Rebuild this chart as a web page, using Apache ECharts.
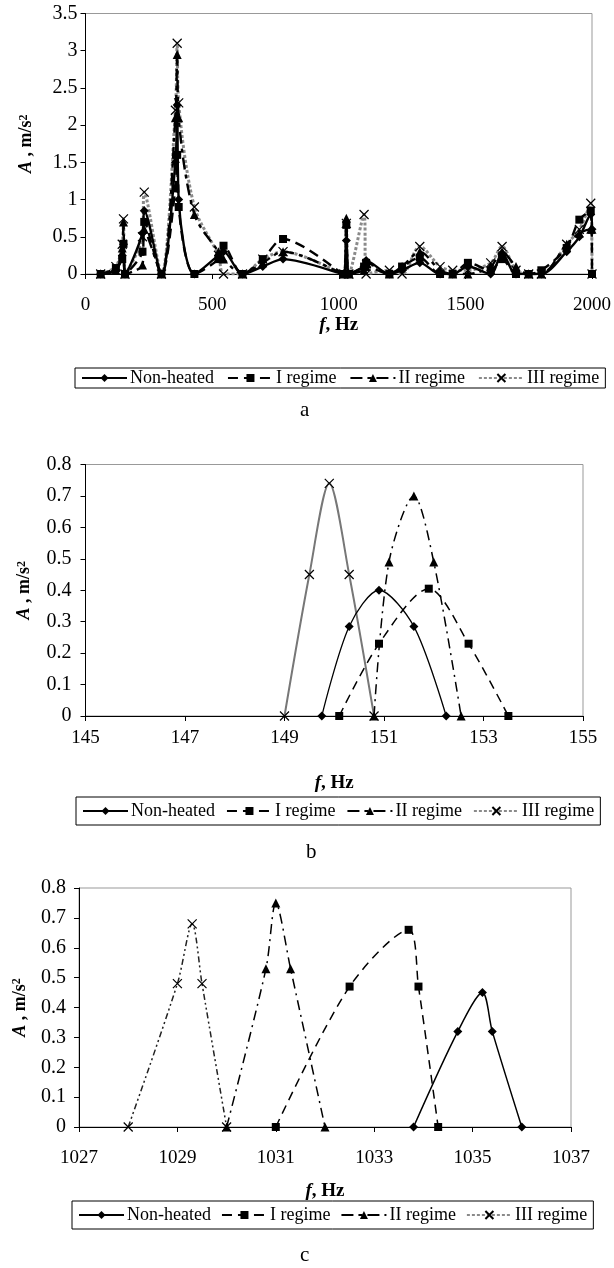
<!DOCTYPE html>
<html>
<head>
<meta charset="utf-8">
<script src="https://cdn.jsdelivr.net/npm/echarts@6/dist/echarts.min.js"></script>
<style>
  html, body { margin: 0; padding: 0; background: #fff; }
  #container { width: 614px; height: 1268px; }
</style>
</head>
<body>
<div id="container"></div>
<script>
// ---- data ----
var seriesNames = ['Non-heated', 'I regime', 'II regime', 'III regime'];

// (a) full spectrum
var freqA = [60, 120, 145, 150, 156, 225, 232, 300, 355, 362, 368, 430, 525, 545, 620, 700, 780,
             1020, 1030, 1040, 1100, 1108, 1200, 1250, 1320, 1400, 1450, 1510, 1600, 1645, 1700,
             1750, 1800, 1900, 1950, 1995, 2000];
var nonHeatedA = [0, 0.05, 0.25, 0.40, 0, 0.55, 0.85, 0, 1.5, 2.27, 1.0, 0, 0.25, 0.3, 0, 0.1, 0.2,
                  0, 0.45, 0, 0.1, 0.18, 0, 0.05, 0.15, 0, 0, 0.1, 0, 0.28, 0, 0, 0, 0.3, 0.5, 0.8, 0.6];
var regime1A = [0, 0.08, 0.2, 0.405, 0, 0.3, 0.7, 0, 1.15, 1.6, 0.9, 0, 0.2, 0.38, 0, 0.2, 0.47,
                0, 0.66, 0, 0.1, 0.15, 0, 0.1, 0.22, 0, 0, 0.15, 0.05, 0.2, 0, 0, 0.05, 0.35, 0.73, 0.85, 0];
var regime2A = [0, 0.05, 0.35, 0.70, 0, 0.12, 0.6, 0, 2.1, 2.95, 2.1, 0.8, 0.3, 0.2, 0, 0.15, 0.3,
                0, 0.75, 0, 0.05, 0.1, 0, 0.1, 0.3, 0.05, 0, 0, 0.1, 0.3, 0.1, 0, 0, 0.4, 0.55, 0.6, 0.6];
var regime3A = [0, 0.1, 0.4, 0.74, 0, 0.5, 1.1, 0, 2.2, 3.1, 2.3, 0.9, 0.25, 0, 0, 0.2, 0.3,
                0, 0.68, 0, 0.8, 0, 0.05, 0, 0.37, 0.1, 0.05, 0.05, 0.15, 0.37, 0.05, 0, 0, 0.4, 0.6, 0.95, 0];

// (b) around 150 Hz
var freqB = [
  [149.75, 150.3, 150.9, 151.6, 152.25],
  [150.1, 150.9, 151.9, 152.7, 153.5],
  [150.8, 151.1, 151.6, 152.0, 152.55],
  [149.0, 149.5, 149.9, 150.3, 150.8]
];
var ampB = [
  [0, 0.285, 0.40, 0.285, 0],
  [0, 0.23, 0.405, 0.23, 0],
  [0, 0.49, 0.70, 0.49, 0],
  [0, 0.45, 0.74, 0.45, 0]
];

// (c) around 1030 Hz
var freqC = [
  [1033.8, 1034.7, 1035.2, 1035.4, 1036],
  [1031, 1032.5, 1033.7, 1033.9, 1034.3],
  [1030, 1030.8, 1031, 1031.3, 1032],
  [1028, 1029, 1029.3, 1029.5, 1030]
];
var ampC = [
  [0, 0.32, 0.45, 0.32, 0],
  [0, 0.47, 0.66, 0.47, 0],
  [0, 0.53, 0.75, 0.53, 0],
  [0, 0.48, 0.68, 0.48, 0]
];

// ---- styles ----
var FONT = '"Liberation Serif", "Times New Roman", serif';
var crossPath = 'path://M0,0L10,10M10,0L0,10';
var symbols = ['diamond', 'rect', 'triangle', crossPath];
var symSize = [9, 8, 9, 9];

var lineA = [
  {color: '#000', width: 2.4, type: 'solid'},
  {color: '#000', width: 2.4, type: [10, 6]},
  {color: '#000', width: 2.4, type: [12, 5, 4, 5]},
  {color: '#8a8a8a', width: 3, type: [3, 2]}
];
var lineB = [
  {color: '#000', width: 1.3, type: 'solid'},
  {color: '#000', width: 1.5, type: [9, 6]},
  {color: '#000', width: 1.5, type: [10, 5, 2, 5]},
  {color: '#777', width: 2, type: 'solid'}
];
var lineC = [
  {color: '#000', width: 1.5, type: 'solid'},
  {color: '#000', width: 1.5, type: [9, 6]},
  {color: '#000', width: 1.5, type: [10, 5, 2, 5]},
  {color: '#222', width: 1.5, type: [6, 3, 2, 3, 2, 3]}
];

function pairs(xs, ys) {
  var out = [];
  for (var i = 0; i < xs.length; i++) out.push([xs[i], ys[i]]);
  return out;
}

function makeSeries(idx, data, line) {
  var isCross = idx === 3;
  return {
    name: seriesNames[idx],
    type: 'line',
    data: data,
    smooth: 0.3,
    symbol: symbols[idx],
    symbolSize: symSize[idx],
    showAllSymbol: true,
    lineStyle: line,
    itemStyle: isCross
      ? {color: 'rgba(0,0,0,0)', borderColor: '#000', borderWidth: 1.2}
      : {color: '#000', borderColor: '#000', borderWidth: 0},
    emphasis: {disabled: true},
    animation: false,
    z: 3 + (3 - idx)
  };
}

var series = [];
var allA = [nonHeatedA, regime1A, regime2A, regime3A];
for (var k = 0; k < 4; k++) {
  var s = makeSeries(k, pairs(freqA, allA[k]), lineA[k]);
  s.xAxisIndex = 0; s.yAxisIndex = 0;
  series.push(s);
}
for (var k = 0; k < 4; k++) {
  var s = makeSeries(k, pairs(freqB[k], ampB[k]), lineB[k]);
  s.xAxisIndex = 1; s.yAxisIndex = 1;
  series.push(s);
}
for (var k = 0; k < 4; k++) {
  var s = makeSeries(k, pairs(freqC[k], ampC[k]), lineC[k]);
  s.xAxisIndex = 2; s.yAxisIndex = 2;
  series.push(s);
}

var xName = {
  name: '{i|f}{b|, Hz}',
  nameLocation: 'middle',
  nameTextStyle: {
    rich: {
      i: {fontFamily: FONT, fontSize: 19, fontStyle: 'italic', fontWeight: 'bold', color: '#000'},
      b: {fontFamily: FONT, fontSize: 19, fontWeight: 'bold', color: '#000'}
    }
  }
};
var yName = {
  name: '{i|A}{b| , m/s}{s|2}',
  nameLocation: 'middle',
  nameRotate: 90,
  nameTextStyle: {
    rich: {
      i: {fontFamily: FONT, fontSize: 18, fontStyle: 'italic', fontWeight: 'bold', color: '#000'},
      b: {fontFamily: FONT, fontSize: 18, fontWeight: 'bold', color: '#000'},
      s: {fontFamily: FONT, fontSize: 12, fontWeight: 'bold', color: '#000', verticalAlign: 'top'}
    }
  }
};

function plain(v) { return String(v); }

function xAxis(grid, min, max, interval, margin, gap) {
  return Object.assign({}, xName, {
    type: 'value', gridIndex: grid, min: min, max: max, interval: interval,
    nameGap: gap,
    axisLine: {show: true, onZero: false, lineStyle: {color: '#000', width: 1}},
    axisTick: {show: true, inside: false, length: 5, lineStyle: {color: '#000'}},
    axisLabel: {fontFamily: FONT, fontSize: 19, color: '#000', margin: margin, formatter: plain},
    splitLine: {show: false}
  });
}
function yAxis(grid, max, interval, margin, gap) {
  return Object.assign({}, yName, {
    type: 'value', gridIndex: grid, min: 0, max: max, interval: interval,
    nameGap: gap,
    axisLine: {show: true, lineStyle: {color: '#000', width: 1}},
    axisTick: {show: true, inside: false, length: 5, lineStyle: {color: '#000'}},
    axisLabel: {fontFamily: FONT, fontSize: 20, color: '#000', margin: margin, formatter: plain},
    splitLine: {show: false}
  });
}

function legend(left, top, itemGap, padV) {
  return {
    data: seriesNames.slice(),
    left: left, top: top,
    orient: 'horizontal',
    itemWidth: 45, itemHeight: 10, itemGap: itemGap,
    padding: [padV, 6, padV, 6],
    borderColor: '#000', borderWidth: 1,
    selectedMode: false,
    textStyle: {fontFamily: FONT, fontSize: 18, color: '#000', padding: [0, 0, 0, -2]}
  };
}

var option = {
  backgroundColor: '#fff',
  animation: false,
  grid: [
    {left: 85.5, right: 17, top: 13.5, height: 260.5, show: true, borderColor: '#999', borderWidth: 1},
    {left: 85.5, right: 31, top: 464.5, height: 251.5, show: true, borderColor: '#999', borderWidth: 1},
    {left: 79, right: 43, top: 888, height: 239, show: true, borderColor: '#999', borderWidth: 1}
  ],
  xAxis: [
    xAxis(0, 0, 2000, 500, 22, 40),
    xAxis(1, 145, 155, 2, 13, 58),
    xAxis(2, 1027, 1037, 2, 22, 55)
  ],
  yAxis: [
    yAxis(0, 3.5, 0.5, 8, 50),
    yAxis(1, 0.8, 0.1, 14, 52),
    yAxis(2, 0.8, 0.1, 13, 50)
  ],
  legend: [
    legend(75, 368, 13, 1),
    legend(76, 797, 11, 5),
    legend(72, 1201, 10, 5)
  ],
  graphic: [
    {type: 'text', left: 300, top: 400, style: {text: 'a', font: '21px ' + FONT, fill: '#000'}},
    {type: 'text', left: 306, top: 842, style: {text: 'b', font: '21px ' + FONT, fill: '#000'}},
    {type: 'text', left: 300, top: 1245, style: {text: 'c', font: '21px ' + FONT, fill: '#000'}}
  ],
  series: series
};

var dom = document.getElementById('container');
var myChart = echarts.init(dom, null, {renderer: 'canvas', width: 614, height: 1268});
myChart.setOption(option, true);
</script>
</body>
</html>
